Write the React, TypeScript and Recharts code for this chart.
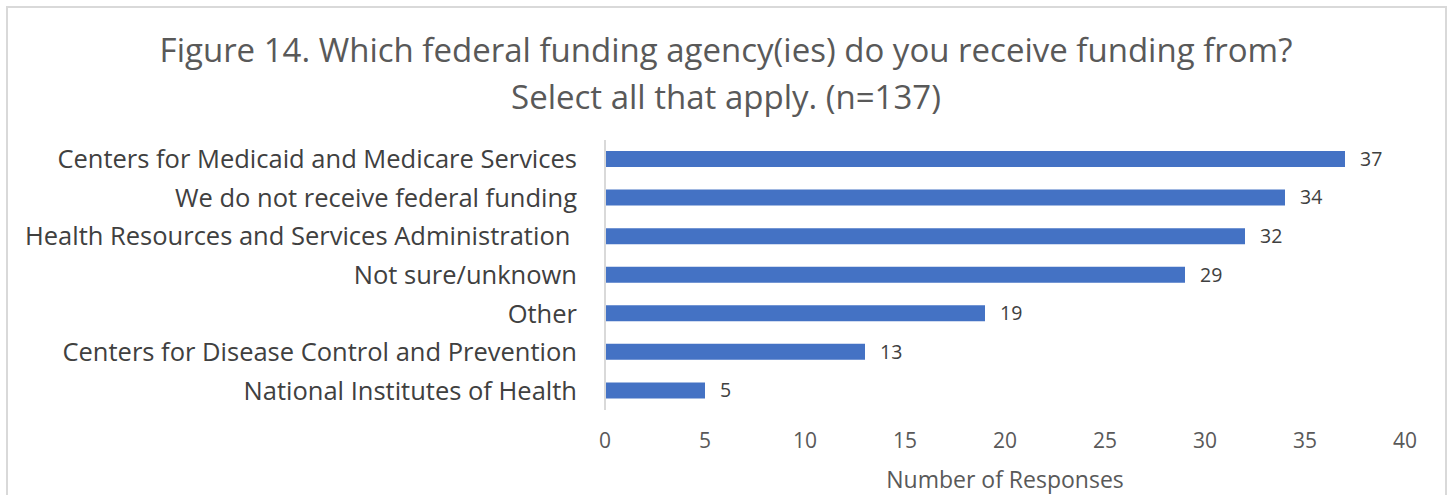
import React from 'react'
import { BarChart, Bar, XAxis, YAxis, LabelList } from 'recharts'

const categories = [
  'Centers for Medicaid and Medicare Services',
  'We do not receive federal funding',
  'Health Resources and Services Administration\u00A0',
  'Not sure/unknown',
  'Other',
  'Centers for Disease Control and Prevention',
  'National Institutes of Health',
]
const responses = [37, 34, 32, 29, 19, 13, 5]
const xTicks = [0, 5, 10, 15, 20, 25, 30, 35, 40]

const titleLines = [
  'Figure 14. Which federal funding agency(ies) do you receive funding from?',
  'Select all that apply. (n=137)',
]

const font = '"Open Sans", sans-serif'

export default function App() {
  const data = categories.map((name, i) => ({ name, value: responses[i] }))

  return (
    <div style={{ fontFamily: font }}>
      <div
        style={{
          position: 'absolute',
          left: 6,
          top: 6,
          width: 1437,
          height: 489,
          border: '2px solid #d9d9d9',
          borderBottom: 'none',
          background: '#fff',
        }}
      />
      <div
        style={{
          position: 'absolute',
          left: 7,
          top: 26,
          width: 1438,
          textAlign: 'center',
          fontSize: 33,
          lineHeight: '47px',
          color: '#595959',
        }}
      >
        {titleLines.map((t) => (
          <div key={t}>{t}</div>
        ))}
      </div>
      <div style={{ position: 'absolute', left: 0, top: 0 }}>
        <BarChart
          width={1448}
          height={495}
          data={data}
          layout="vertical"
          margin={{ top: 140, right: 43, bottom: 0, left: 0 }}
        >
          <XAxis
            type="number"
            domain={[0, 40]}
            ticks={xTicks}
            axisLine={false}
            tickLine={false}
            tickSize={6}
            tickMargin={17}
            height={85}
            tick={{ fontSize: 21, fill: '#595959', fontFamily: font }}
            label={{
              value: 'Number of Responses',
              position: 'insideBottom',
              offset: 7,
              fontSize: 23,
              fill: '#595959',
              fontFamily: font,
            }}
          />
          <YAxis
            type="category"
            dataKey="name"
            width={605}
            axisLine={{ stroke: '#d9d9d9', strokeWidth: 2 }}
            tickLine={false}
            tickSize={6}
            tickMargin={22}
            interval={0}
            tick={{ fontSize: 25.5, fill: '#404040', fontFamily: font }}
          />
          <Bar dataKey="value" fill="#4472C4" barSize={16} isAnimationActive={false}>
            <LabelList
              dataKey="value"
              position="right"
              offset={15}
              style={{ fontSize: 19.5, fill: '#404040', fontFamily: font }}
            />
          </Bar>
        </BarChart>
      </div>
    </div>
  )
}
